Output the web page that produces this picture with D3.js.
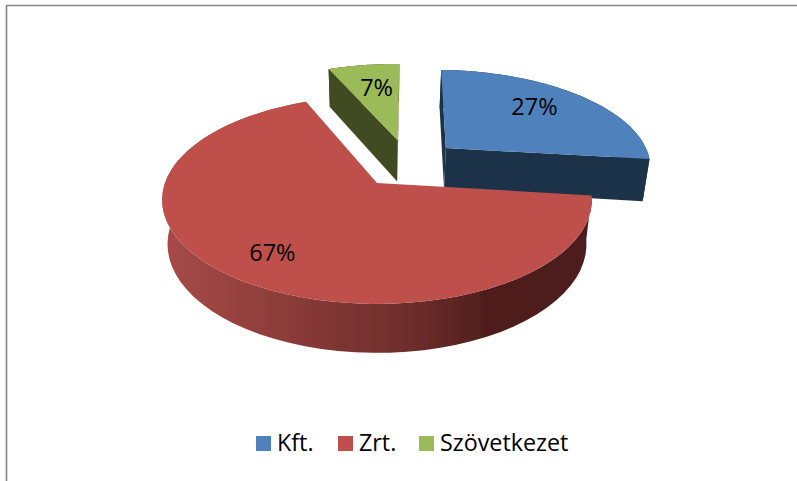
<!DOCTYPE html>
<html><head><meta charset="utf-8">
<script src="https://cdn.jsdelivr.net/npm/d3@7"></script>
<style>html,body{margin:0;padding:0;background:#fff}svg{display:block}text{font-family:"Open Sans",sans-serif;fill:#000}</style>
</head><body><svg id="c" width="797" height="481"></svg>
<script>
const categories = ["Kft.", "Zrt.", "Szövetkezet"];
const shares = [26.5, 66.8, 6.7];
const labels = ["27%", "67%", "7%"];
const colors = ["#4F81BD", "#BE4F4C", "#9BBB59"];
const sideColors = ["#1F3349", "#4E1F1D", "#404C20"];

// Perspective layout
const P = {cx:377, cy:183, f:212, g:101.2, k:0.163};
const explode = [[.344,-.366],[0,0],[.105,-.455]];
const labelR = [.715,.76,.682], labelTurn = [-4.3,-1.4,1.5];
const deg = Math.PI/180;
const project = ([X,Y]) => { const w = 1-P.k*Y; return [P.cx+P.f*X/w, P.cy+P.g*Y/w]; };
const drop = ([x,y]) => [P.cx+(x-P.cx)*0.975, y+43.3+0.047*(y-P.cy)];

const svg = d3.select("#c");
svg.append("path").attr("d","M6.5 481V5.5H797").attr("fill","none").attr("stroke","#868686").attr("stroke-width",1.6);
const defs = svg.append("defs");
const blur = defs.append("filter").attr("id","soft").attr("x","-5%").attr("y","-5%").attr("width","110%").attr("height","110%");
blur.append("feGaussianBlur").attr("stdDeviation",0.45);
const grad = defs.append("linearGradient").attr("id","rim").attr("gradientUnits","userSpaceOnUse")
  .attr("x1",165).attr("x2",590).attr("y1",0).attr("y2",0);
[[0,"#A64B47"],[.3,"#8A3B38"],[.6,"#6A2C2A"],[.76,"#4F1E1D"],[1,"#4E1F1D"]].forEach(([o,c])=>grad.append("stop").attr("offset",o).attr("stop-color",c));

const pie = d3.pie().sort(null).startAngle(1.5*deg).endAngle(361.5*deg);
const arcs = pie(shares);
const line = d3.line();
const g = svg.append("g").attr("filter","url(#soft)");

function sliceGeom(a,i){
  const [ox,oy] = explode[i];
  const rimWorld = d3.range(0,61).map(t=>{
    const th = a.startAngle+(a.endAngle-a.startAngle)*t/60;
    return [ox+Math.sin(th), oy-Math.cos(th)];
  });
  return {apex:project([ox,oy]), rim:rimWorld.map(project)};
}
[2,0,1].forEach(i=>{
  const {apex,rim} = sliceGeom(arcs[i],i);
  const sideFill = i===1 ? "url(#rim)" : sideColors[i];
  // outer wall
  g.append("path").attr("d",line(rim.concat(rim.map(drop).reverse()))+"Z").attr("fill",sideFill);
  // cut walls
  if(i!==1){
    [rim[0],rim[rim.length-1]].forEach(p=>{
      g.append("path").attr("d",line([apex,p,drop(p),drop(apex)])+"Z").attr("fill",sideColors[i]);
    });
  }
  g.append("path").attr("d",line([apex].concat(rim))+"Z").attr("fill",colors[i]);
});

arcs.forEach((a,i)=>{
  const th = (a.startAngle+a.endAngle)/2+labelTurn[i]*deg;
  const [x,y] = project([explode[i][0]+labelR[i]*Math.sin(th), explode[i][1]-labelR[i]*Math.cos(th)]);
  svg.append("text").attr("x",x).attr("y",y).attr("text-anchor","middle").attr("dominant-baseline","central")
    .attr("font-size",23.5).text(labels[i]);
});

// Legend
const legendX = d3.scaleOrdinal().domain(categories).range([256,338,419]);
categories.forEach((c,i)=>{
  svg.append("rect").attr("x",legendX(c)).attr("y",436).attr("width",15).attr("height",15).attr("fill",colors[i]);
  svg.append("text").attr("x",legendX(c)+21).attr("y",451).attr("font-size",23.3).text(c);
});
</script></body></html>
